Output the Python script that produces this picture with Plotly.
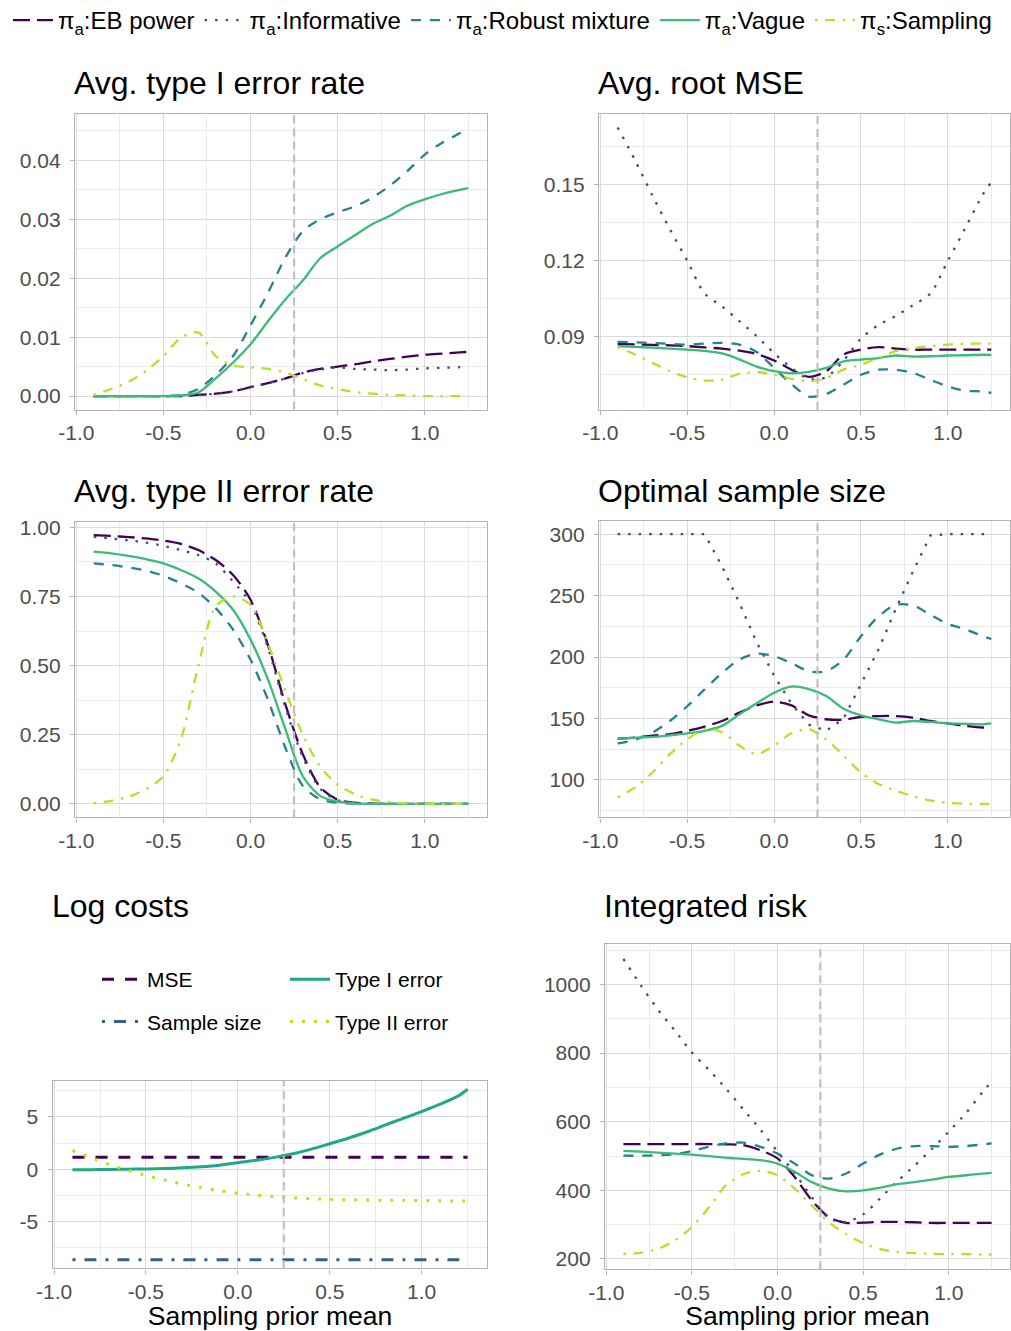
import plotly.graph_objects as go

# ---------------- data ----------------
X = [-0.9, -0.8, -0.7, -0.6, -0.5, -0.4, -0.3, -0.2, -0.1, 0.0, 0.1, 0.2,
     0.3, 0.4, 0.5, 0.6, 0.7, 0.8, 0.9, 1.0, 1.1, 1.2, 1.25]
REF_MEAN = 0.25

SERIES = ["EB power", "Informative", "Robust mixture", "Vague", "Sampling"]
LEGEND_NAMES = ["π<sub>a</sub>:EB power", "π<sub>a</sub>:Informative",
                "π<sub>a</sub>:Robust mixture", "π<sub>a</sub>:Vague",
                "π<sub>s</sub>:Sampling"]

# Avg. type I error rate
T1_EB = [0, 0, 0, 0, 0, 0, 0.0002, 0.0004, 0.0008, 0.0015, 0.0022, 0.003, 0.004,
         0.0046, 0.005, 0.0054, 0.0059, 0.0063, 0.0067, 0.007, 0.0072, 0.0074, 0.0075]
T1_INF = [0, 0, 0, 0, 0, 0, 0.0002, 0.0004, 0.0008, 0.0015, 0.0022, 0.003, 0.0039,
          0.0045, 0.0049, 0.0046, 0.0045, 0.0044, 0.0045, 0.0047, 0.0048, 0.0049, 0.005]
T1_ROB = [0, 0, 0, 0, 0, 0.0002, 0.0012, 0.0036, 0.0068, 0.012, 0.0175, 0.0235, 0.028,
          0.030, 0.0312, 0.0322, 0.0337, 0.0357, 0.0382, 0.041, 0.043, 0.0446, 0.0456]
T1_VAG = [0, 0, 0, 0, 0, 0.0001, 0.0006, 0.003, 0.0057, 0.0088, 0.0127, 0.0164, 0.0196,
          0.0234, 0.0254, 0.0273, 0.0292, 0.0306, 0.0323, 0.0334, 0.0343, 0.035, 0.0353]
T1_SAM = [0.0002, 0.0012, 0.0024, 0.0043, 0.0068, 0.0099, 0.0108, 0.0068, 0.0052, 0.0049,
          0.0046, 0.004, 0.0029, 0.0018, 0.0012, 0.0007, 0.0004, 0.0002, 0.0001, 0, 0, 0, 0]

# Avg. root MSE
RM_EB = [0.0871, 0.0869, 0.0867, 0.0865, 0.0862, 0.0857, 0.0852, 0.0844, 0.0831, 0.0805,
         0.0769, 0.0741, 0.0763, 0.0829, 0.0848, 0.0858, 0.0852, 0.0848, 0.0848, 0.0848,
         0.0848, 0.0848, 0.0848]
RM_INF = [0.1725, 0.1595, 0.1456, 0.1324, 0.1199, 0.107, 0.1019, 0.0961, 0.0901, 0.0834,
          0.0776, 0.0733, 0.0739, 0.0805, 0.0892, 0.0945, 0.0981, 0.1024, 0.107, 0.1199,
          0.1327, 0.1459, 0.1509]
RM_ROB = [0.0879, 0.0877, 0.0874, 0.0871, 0.0868, 0.0872, 0.0875, 0.0868, 0.0839, 0.0776,
          0.0712, 0.0663, 0.0673, 0.071, 0.0749, 0.0769, 0.0769, 0.0756, 0.0729, 0.0703,
          0.0686, 0.0683, 0.0677]
RM_VAG = [0.0862, 0.0859, 0.0856, 0.0852, 0.0848, 0.0843, 0.0833, 0.081, 0.0781, 0.0763,
          0.0755, 0.076, 0.0776, 0.0802, 0.0809, 0.0815, 0.0825, 0.0821, 0.0822, 0.0825,
          0.0826, 0.0828, 0.0827]
RM_SAM = [0.0858, 0.0829, 0.0796, 0.0763, 0.0739, 0.0726, 0.073, 0.0752, 0.076, 0.0749,
          0.0733, 0.0723, 0.0736, 0.0769, 0.0789, 0.0815, 0.0842, 0.0855, 0.0862, 0.0868,
          0.0871, 0.0872, 0.0872]

# Avg. type II error rate
T2_EB = [0.972, 0.969, 0.965, 0.96, 0.952, 0.94, 0.918, 0.882, 0.828, 0.738, 0.575, 0.36,
         0.18, 0.06, 0.015, 0.004, 0.001, 0, 0, 0, 0, 0, 0]
T2_INF = [0.966, 0.96, 0.953, 0.945, 0.933, 0.918, 0.9, 0.87, 0.804, 0.726, 0.565, 0.35,
          0.17, 0.055, 0.013, 0.003, 0.001, 0, 0, 0, 0, 0, 0]
T2_ROB = [0.87, 0.864, 0.855, 0.844, 0.825, 0.798, 0.764, 0.708, 0.63, 0.522, 0.377, 0.203,
          0.065, 0.017, 0.004, 0.001, 0, 0, 0, 0, 0, 0, 0]
T2_VAG = [0.912, 0.906, 0.897, 0.885, 0.87, 0.846, 0.816, 0.768, 0.702, 0.594, 0.45, 0.27,
          0.10, 0.029, 0.008, 0.002, 0, 0, 0, 0, 0, 0, 0]
T2_SAM = [0.002, 0.011, 0.026, 0.053, 0.10, 0.233, 0.498, 0.714, 0.75, 0.72, 0.58, 0.41,
          0.25, 0.135, 0.07, 0.035, 0.015, 0.006, 0.002, 0.001, 0, 0, 0]

# Optimal sample size
SS_EB = [133.7, 134.5, 136, 137.3, 140, 143.5, 148, 154.8, 160.7, 163.7, 160.7, 152.6,
         149.4, 149, 151.3, 152, 152, 150.7, 148, 146, 144, 142.7, 142.7]
SS_INF = [300, 300, 300, 300, 300, 300, 274, 244, 212, 185, 162, 145, 140, 150, 178, 206,
          239, 270, 299, 300, 300, 300, 300]
SS_ROB = [129.7, 132.7, 138.6, 148, 160, 173.7, 187, 198, 202.8, 200.7, 195, 188.5, 188.5,
          198, 217, 233, 242.5, 242, 234.4, 227, 222.8, 217, 214.7]
SS_VAG = [133.7, 134.5, 135, 136.4, 138, 140, 144, 153.4, 162.4, 171, 176, 174, 168.3,
          158, 152.6, 149.4, 146.7, 148, 147.2, 146, 145.7, 145.3, 146]
SS_SAM = [86, 94, 106, 121, 133, 141.3, 139, 128, 121, 128, 138, 141.3, 133, 119.7, 106,
          96.8, 91.4, 86.8, 83.3, 81.4, 80.6, 80.6, 80.6]

# Log costs
COST_NAMES = ["MSE", "Sample size", "Type I error", "Type II error"]
LC_MSE = [1.14] * 23
LC_SS = [-8.64] * 23
LC_T1 = [-0.05, -0.04, -0.02, 0.0, 0.03, 0.07, 0.13, 0.23, 0.38, 0.62, 0.85, 1.13, 1.47,
         1.92, 2.43, 2.95, 3.55, 4.2, 4.85, 5.5, 6.2, 7.0, 7.63]
LC_T2 = [1.8, 1.1, 0.45, -0.1, -0.6, -1.03, -1.43, -1.76, -2.05, -2.3, -2.48, -2.62, -2.73,
         -2.81, -2.87, -2.92, -2.94, -2.96, -2.97, -2.99, -3.01, -3.03, -3.04]

# Integrated risk
IR_EB = [535, 535, 535, 535, 535, 535, 534, 532, 517, 493, 439, 371, 322, 305, 306, 308,
         308, 307, 305, 305, 305, 305, 305]
IR_INF = [1075, 999, 928, 866, 802, 751, 696, 636, 577, 513, 450, 380, 319, 308, 330, 377,
          427, 472, 520, 571, 625, 688, 718]
IR_ROB = [501, 501, 502, 505, 515, 527, 537, 539, 527, 507, 478, 444, 434, 449, 478, 505,
          522, 529, 529, 527, 529, 534, 537]
IR_VAG = [515, 513, 510, 507, 504, 500, 495, 492, 488, 478, 454, 424, 405, 397, 400, 408,
          418, 424, 431, 439, 444, 449, 451]
IR_SAM = [215, 218, 229, 254, 293, 351, 415, 447, 457, 444, 405, 356, 307, 273, 246, 229,
          220, 217, 215, 214, 214, 213, 213]

TITLES = ["Avg. type I error rate", "Avg. root MSE", "Avg. type II error rate",
          "Optimal sample size", "Log costs", "Integrated risk"]
X_TITLE = "Sampling prior mean"

X_TICKS = [-1.0, -0.5, 0.0, 0.5, 1.0]
X_TICK_TEXT = ["-1.0", "-0.5", "0.0", "0.5", "1.0"]
Y_TICKS = [
    ([0, 0.01, 0.02, 0.03, 0.04], ["0.00", "0.01", "0.02", "0.03", "0.04"], 0.005, 0.01),
    ([0.09, 0.12, 0.15], ["0.09", "0.12", "0.15"], 0.075, 0.03),
    ([0, 0.25, 0.5, 0.75, 1.0], ["0.00", "0.25", "0.50", "0.75", "1.00"], 0.125, 0.25),
    ([100, 150, 200, 250, 300], ["100", "150", "200", "250", "300"], 75, 50),
    ([-5, 0, 5], ["-5", "0", "5"], -7.5, 5),
    ([200, 400, 600, 800, 1000], ["200", "400", "600", "800", "1000"], 300, 200),
]

# ---------------- styles ----------------
COLORS = ["#440154", "#3E4A89", "#26828E", "#3BBB75", "#BBDF27"]
DASHES = ["17px,7px", "2.5px,8px", "10px,9px", "solid", "2.5px,7.5px,10px,7.5px"]
COST_COLORS = ["#440154", "#355F8D", "#22A884", "#BBDF27"]
COST_DASHES = ["12px,11px", "3px,9px,12px,9px", "solid", "3px,9px"]

W, H = 1011, 1331
FONT = "Liberation Sans, Arial, Helvetica, sans-serif"
PANELS_PX = [  # (left, right, top, bottom) in pixels
    (75, 487, 114, 409.5),
    (599, 1010, 114, 410),
    (75, 487, 521.7, 817.3),
    (599, 1010, 520.7, 817.3),
    (52.7, 487.3, 1080.7, 1268.3),
    (605, 1010, 944, 1269.3),
]
TITLE_POS = [(72, 83), (596, 83), (72, 491), (596, 491), (49.5, 906), (602, 906)]


def padded(lists):
    lo = min(min(v) for v in lists)
    hi = max(max(v) for v in lists)
    span = hi - lo
    return [lo - 0.05 * span, hi + 0.05 * span]


fig = go.Figure()

panel_series = [
    [T1_EB, T1_INF, T1_ROB, T1_VAG, T1_SAM],
    [RM_EB, RM_INF, RM_ROB, RM_VAG, RM_SAM],
    [T2_EB, T2_INF, T2_ROB, T2_VAG, T2_SAM],
    [SS_EB, SS_INF, SS_ROB, SS_VAG, SS_SAM],
    None,
    [IR_EB, IR_INF, IR_ROB, IR_VAG, IR_SAM],
]

for p, series in enumerate(panel_series):
    if series is None:
        continue
    ax = "" if p == 0 else str(p + 1)
    for s, (name, vals) in enumerate(zip(SERIES, series)):
        shape = "linear" if (p == 3 and s == 1) else "spline"
        fig.add_trace(go.Scatter(
            x=X, y=vals, mode="lines", name=LEGEND_NAMES[s],
            legendgroup=name, showlegend=(p == 0), legend="legend",
            line=dict(color=COLORS[s], dash=DASHES[s], width=2.3,
                      shape=shape, smoothing=0.8),
            xaxis="x" + ax, yaxis="y" + ax, hoverinfo="skip",
        ))

cost_vals = [LC_MSE, LC_SS, LC_T1, LC_T2]
cost_legends = ["legend2", "legend2", "legend3", "legend3"]
for c, (name, vals) in enumerate(zip(COST_NAMES, cost_vals)):
    fig.add_trace(go.Scatter(
        x=X, y=vals, mode="lines", name=name, legendgroup=name,
        legend=cost_legends[c],
        line=dict(color=COST_COLORS[c], dash=COST_DASHES[c], width=3,
                  shape="spline", smoothing=0.8),
        xaxis="x5", yaxis="y5", hoverinfo="skip",
    ))

layout = dict(
    width=W, height=H,
    margin=dict(l=0, r=0, t=0, b=0, autoexpand=False),
    paper_bgcolor="white", plot_bgcolor="white",
    font=dict(family=FONT, color="black"),
    showlegend=True,
    legend=dict(orientation="h", x=0.497, xanchor="center", y=1 + 2 / H, yanchor="top",
                font=dict(size=24, color="black", family=FONT), itemwidth=40,
                bgcolor="rgba(0,0,0,0)", traceorder="normal"),
    legend2=dict(orientation="v", x=97 / W, xanchor="left", y=1 - 959 / H, yanchor="top",
                 font=dict(size=21, color="black", family=FONT), itemwidth=40,
                 tracegroupgap=12, bgcolor="rgba(0,0,0,0)"),
    legend3=dict(orientation="v", x=285 / W, xanchor="left", y=1 - 959 / H, yanchor="top",
                 font=dict(size=21, color="black", family=FONT), itemwidth=40,
                 tracegroupgap=12, bgcolor="rgba(0,0,0,0)"),
)

all_y = [panel_series[0], panel_series[1], panel_series[2], panel_series[3],
         cost_vals, panel_series[5]]
shapes = []
annotations = []
for p in range(6):
    ax = "" if p == 0 else str(p + 1)
    l, r, t, b = PANELS_PX[p]
    tv, tt, m0, md = Y_TICKS[p]
    common = dict(showline=True, mirror=True, linecolor="#B3B3B3", linewidth=1.4,
                  ticks="outside", ticklen=4, tickcolor="#B3B3B3", tickwidth=1.3,
                  showgrid=True, gridcolor="#DADADA", gridwidth=1, zeroline=False,
                  automargin=False,
                  tickfont=dict(size=21, color="#4D4D4D", family=FONT))
    xa = dict(common, domain=[l / W, r / W], anchor="y" + ax, range=padded([X]),
              tickmode="array", tickvals=X_TICKS, ticktext=X_TICK_TEXT,
              minor=dict(tick0=-0.75, dtick=0.5, showgrid=True, gridcolor="#EBEBEB",
                         gridwidth=1))
    if p >= 4:
        xa["automargin"] = True
        xa["title"] = dict(text=X_TITLE, font=dict(size=26.5, color="black", family=FONT),
                           standoff=0)
    ya = dict(common, domain=[1 - b / H, 1 - t / H], anchor="x" + ax,
              range=padded(all_y[p]), tickmode="array", tickvals=tv, ticktext=tt,
              minor=dict(tick0=m0, dtick=md, showgrid=True, gridcolor="#EBEBEB",
                         gridwidth=1),
              ticklabelstandoff=5)
    layout["xaxis" + ax] = xa
    layout["yaxis" + ax] = ya
    shapes.append(dict(type="line", xref="x" + ax, yref="y" + ax + " domain",
                       x0=REF_MEAN, x1=REF_MEAN, y0=0, y1=1, layer="above",
                       line=dict(color="#C0C0C0", width=2.2, dash="8px,5px")))
    tx, ty = TITLE_POS[p]
    annotations.append(dict(text=TITLES[p], xref="paper", yref="paper",
                            x=tx / W, y=1 - ty / H, xanchor="left", yanchor="middle",
                            showarrow=False,
                            font=dict(size=32, color="black", family=FONT)))

layout["shapes"] = shapes
layout["annotations"] = annotations
fig.update_layout(**layout)

fig.write_html("out.html")
